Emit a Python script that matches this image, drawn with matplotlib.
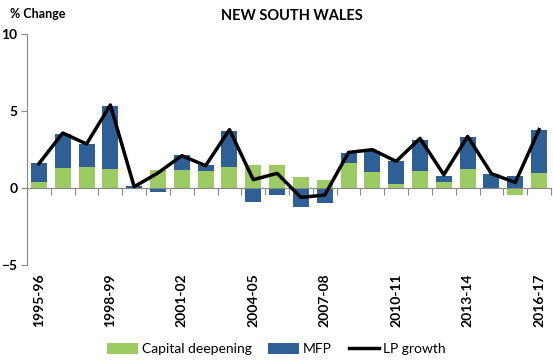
import numpy as np
import matplotlib
matplotlib.use("Agg")
import matplotlib.pyplot as plt
from matplotlib.transforms import blended_transform_factory

years = ["1995-96", "1996-97", "1997-98", "1998-99", "1999-00", "2000-01",
         "2001-02", "2002-03", "2003-04", "2004-05", "2005-06", "2006-07",
         "2007-08", "2008-09", "2009-10", "2010-11", "2011-12", "2012-13",
         "2013-14", "2014-15", "2015-16", "2016-17"]
capital = [0.41, 1.32, 1.38, 1.25, 0.0, 1.19, 1.19, 1.12, 1.38, 1.47, 1.47,
           0.73, 0.54, 1.64, 1.06, 0.28, 1.12, 0.41, 1.25, 0.0, -0.43, 0.99]
mfp = [1.23, 2.21, 1.50, 4.09, 0.15, -0.28, 0.93, 0.35, 2.34, -0.93, -0.48,
       -1.26, -1.0, 0.65, 1.36, 1.49, 2.02, 0.39, 2.08, 0.93, 0.80, 2.80]
lp = [1.58, 3.57, 2.86, 5.39, 0.08, 0.98, 2.10, 1.45, 3.79, 0.54, 0.95,
      -0.61, -0.46, 2.31, 2.49, 1.73, 3.22, 0.86, 3.35, 0.93, 0.36, 3.79]

plt.rcParams['font.family'] = ['Lato', 'DejaVu Sans']
green = '#9BCB62'
blue = '#2E6096'

fig = plt.figure(figsize=(5.53, 3.61), dpi=100)
ax = fig.add_axes([27 / 553, 1 - 265 / 361, 524 / 553, 231 / 361])

x = np.arange(len(years))
cap = np.array(capital)
mf = np.array(mfp)
# Excel-style stacking: positives on positives, negatives on negatives
mfp_bottom = np.where(mf >= 0, np.clip(cap, 0, None), np.clip(cap, None, 0))
b1 = ax.bar(x, cap, width=0.67, color=green, label='Capital deepening', zorder=2)
b2 = ax.bar(x, mf, width=0.67, bottom=mfp_bottom, color=blue, label='MFP', zorder=2)
l1, = ax.plot(x, lp, color='black', lw=2.5, label='LP growth', zorder=3)

ax.set_xlim(-0.5, len(years) - 0.5)
ax.set_ylim(-5, 10)
ax.set_yticks([-5, 0, 5, 10])
ax.tick_params(axis='y', length=4, color='#888888', labelsize=10, pad=3)
for t in ax.get_yticklabels():
    t.set_fontweight('bold')

for s in ['top', 'right']:
    ax.spines[s].set_visible(False)
ax.spines['left'].set_color('#888888')
ax.spines['bottom'].set_color('#888888')
ax.spines['bottom'].set_position(('data', 0))
ax.set_xticks(np.arange(len(years) + 1) - 0.5)
ax.set_xticklabels([])
ax.tick_params(axis='x', direction='out', length=5, color='#888888')

trans = blended_transform_factory(ax.transData, ax.transAxes)
for i in range(0, len(years), 3):
    ax.text(x[i], -0.035, years[i], rotation=90, ha='center', va='top',
            fontsize=10, fontweight='bold', transform=trans)

fig.text(292 / 553, 1 - 16 / 361, 'NEW SOUTH WALES', ha='center', va='center',
         fontsize=10.5, fontweight='bold')
fig.text(10 / 553, 1 - 14 / 361, '% Change', ha='left', va='center',
         fontsize=9, fontweight='bold')

fig.legend([b1, b2, l1], ['Capital deepening', 'MFP', 'LP growth'],
           loc='center', bbox_to_anchor=(0.5, 1 - 349 / 361), ncol=3,
           frameon=False, fontsize=10, handlelength=2.2, handleheight=0.8,
           columnspacing=1.2, handletextpad=0.3)

fig.savefig('out.png', dpi=100)
